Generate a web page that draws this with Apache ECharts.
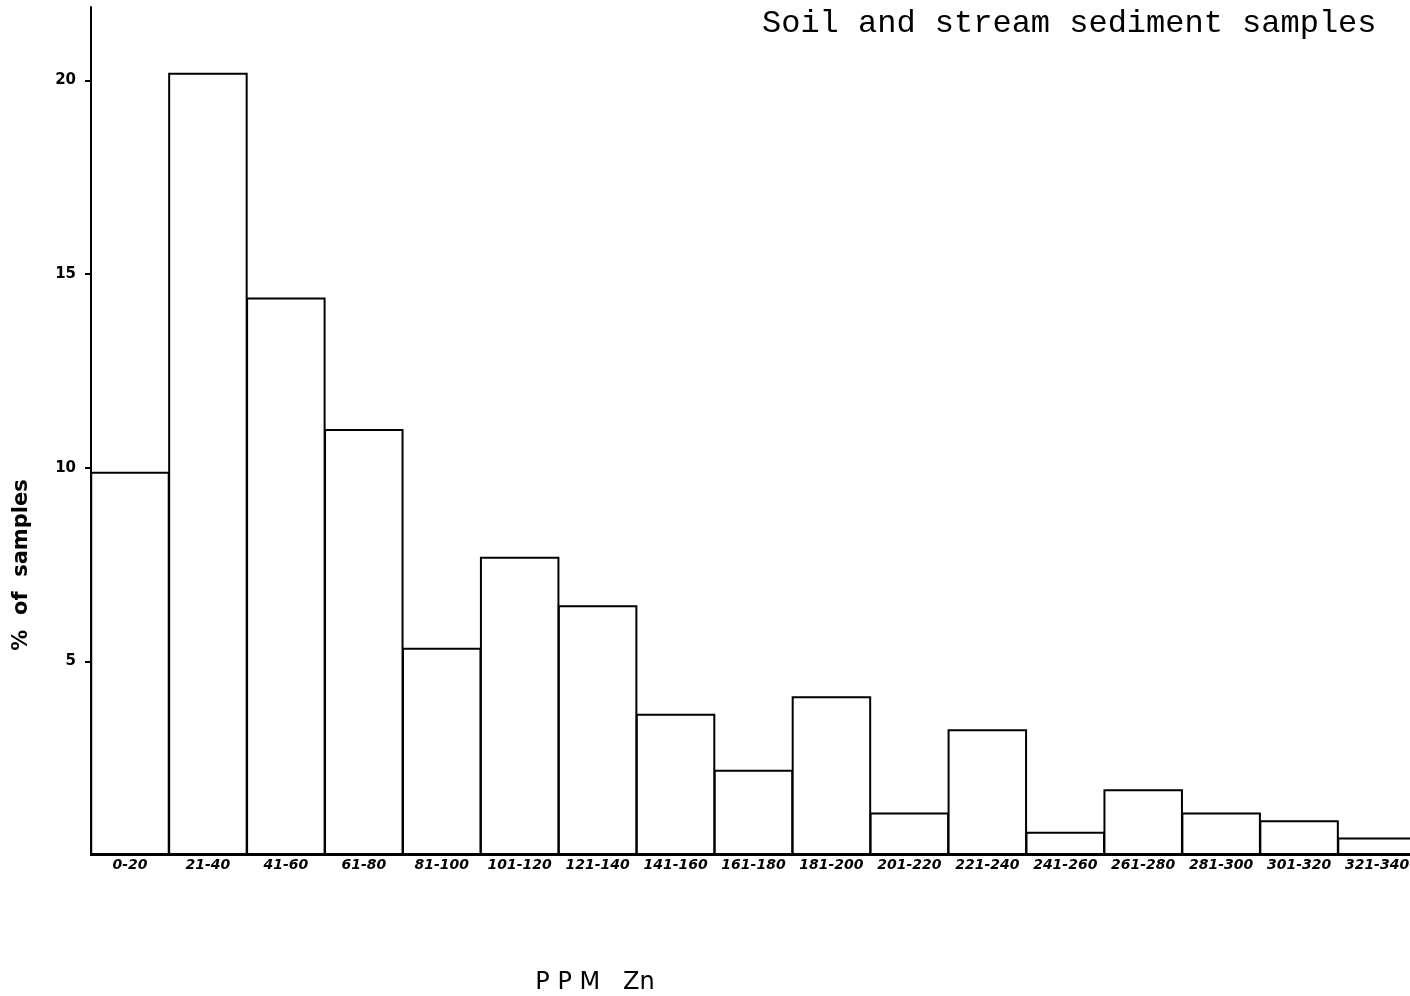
<!DOCTYPE html>
<html>
<head>
<meta charset="utf-8">
<script src="https://cdn.jsdelivr.net/npm/echarts@6/dist/echarts.min.js"></script>
<style>
  html, body { margin: 0; padding: 0; background: #fff; }
  #chart { width: 1410px; height: 996px; }
</style>
</head>
<body>
<div id="chart"></div>
<script>
// ppm Zn classes
var categories = ['0-20', '21-40', '41-60', '61-80', '81-100', '101-120', '121-140', '141-160',
  '161-180', '181-200', '201-220', '221-240', '241-260', '261-280', '281-300', '301-320', '321-340'];
// % of samples in each class
var percents = [9.9, 20.2, 14.4, 11.0, 5.35, 7.7, 6.45, 3.65, 2.2, 4.1, 1.1, 3.25, 0.6, 1.7, 1.1, 0.9, 0.45];
var yTicks = [5, 10, 15, 20];

var chart = echarts.init(document.getElementById('chart'));
chart.setOption({
  animation: false,
  backgroundColor: '#fff',
  grid: {
    left: 91,
    width: 1325,
    top: 7,
    bottom: 141,
    outerBoundsMode: 'none'
  },
  xAxis: {
    type: 'category',
    data: categories,
    axisLine: { lineStyle: { color: '#000', width: 2 } },
    axisTick: { show: false },
    axisLabel: {
      interval: 0,
      margin: 3,
      color: '#000',
      fontSize: 14,
      fontStyle: 'italic',
      fontWeight: 'bold',
      fontFamily: 'DejaVu Sans'
    }
  },
  yAxis: {
    type: 'value',
    min: 0,
    max: 21.9,
    splitLine: { show: false },
    axisLine: { show: true, lineStyle: { color: '#000', width: 2 } },
    axisTick: { show: true, length: 6, customValues: yTicks, lineStyle: { color: '#000', width: 2 } },
    axisLabel: {
      customValues: yTicks,
      margin: 15,
      color: '#000',
      fontSize: 15,
      fontWeight: 'bold',
      fontFamily: 'DejaVu Sans'
    }
  },
  series: [{
    type: 'bar',
    data: percents,
    barWidth: '102%',
    itemStyle: { color: '#fff', borderColor: '#000', borderWidth: 2 }
  }],
  graphic: [
    {
      type: 'text',
      left: 762,
      top: 8,
      style: {
        text: 'Soil and stream sediment samples',
        font: '32px "Liberation Mono"',
        fill: '#000'
      }
    },
    {
      type: 'text',
      x: 22,
      y: 565,
      rotation: Math.PI / 2,
      style: {
        text: '%  of  samples',
        font: 'bold 21px "DejaVu Sans"',
        fill: '#000',
        align: 'center',
        verticalAlign: 'middle'
      }
    },
    {
      type: 'text',
      x: 595,
      y: 983,
      style: {
        text: 'P P M   Zn',
        font: '24px "DejaVu Sans"',
        fill: '#000',
        align: 'center',
        verticalAlign: 'middle'
      }
    }
  ]
});
</script>
</body>
</html>
